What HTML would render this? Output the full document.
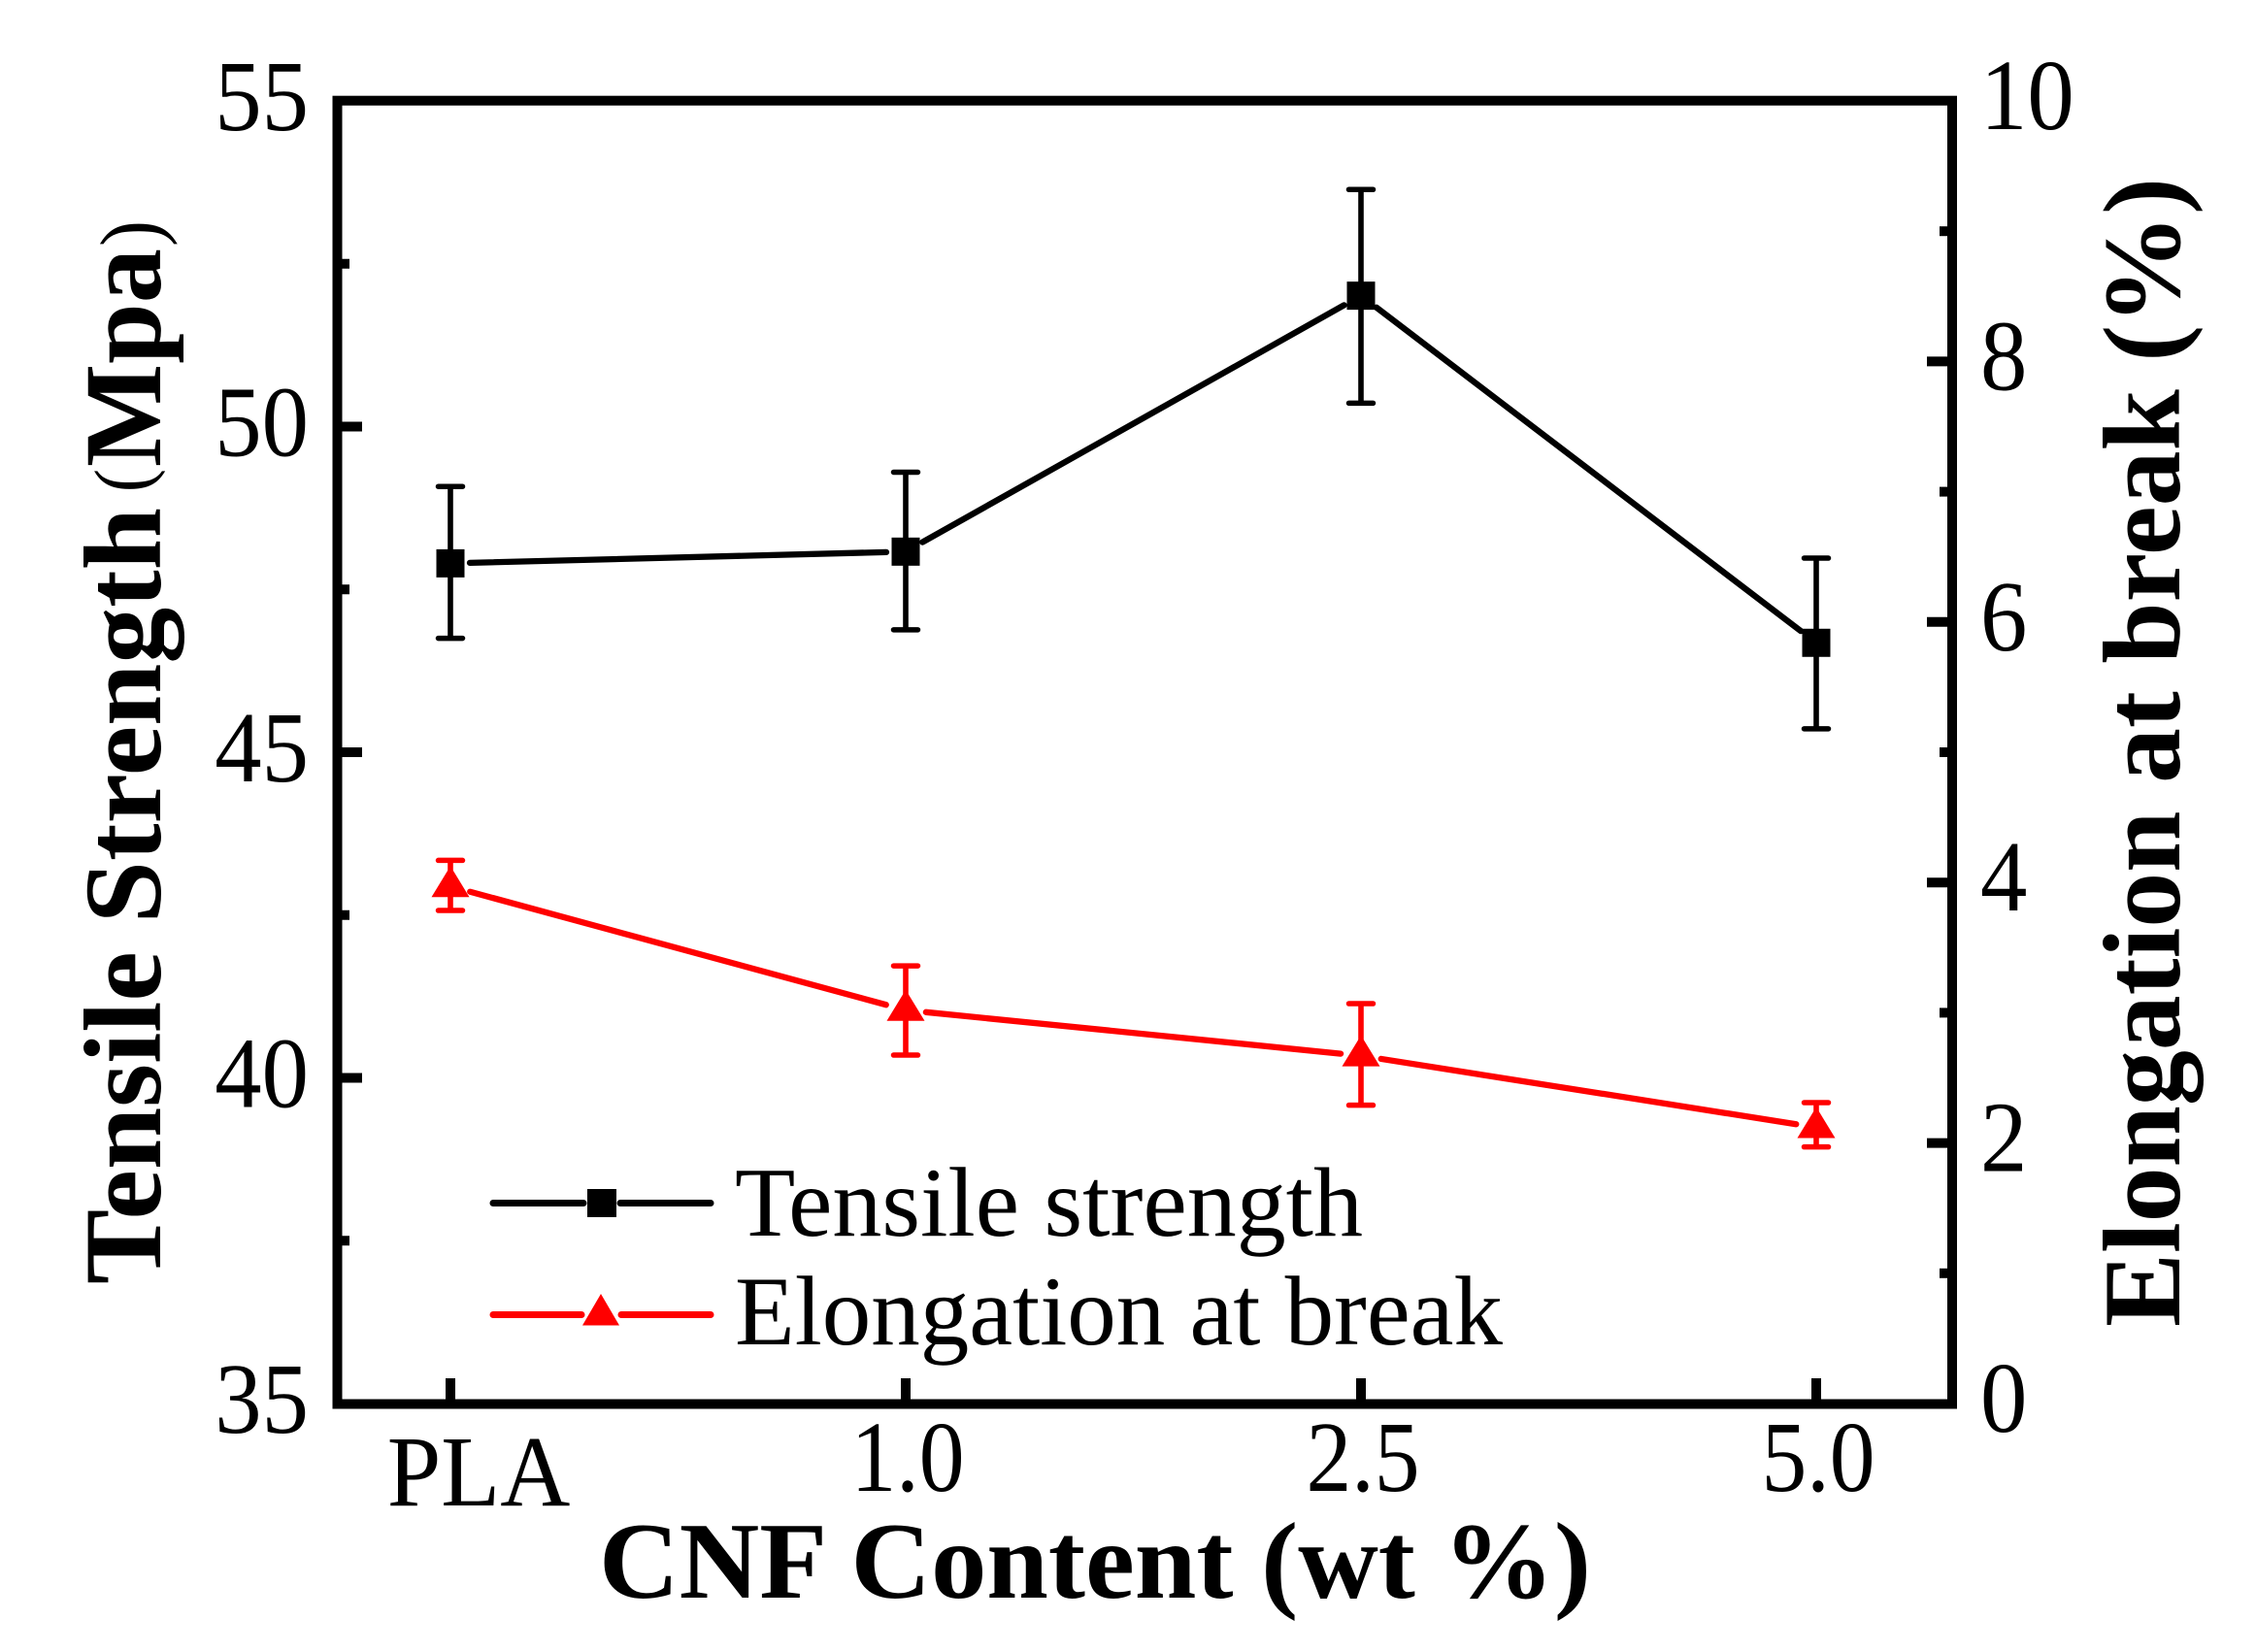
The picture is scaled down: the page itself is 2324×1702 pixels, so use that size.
<!DOCTYPE html>
<html lang="en">
<head>
<meta charset="utf-8">
<title>Tensile strength and elongation at break vs CNF content</title>
<style>
html,body{margin:0;padding:0;background:#fff;}
svg{display:block;font-family:"Liberation Serif","Times New Roman",serif;}
</style>
</head>
<body>
<svg id="chart" xmlns="http://www.w3.org/2000/svg" width="2324" height="1702" viewBox="0 0 2324 1702">
  <rect x="0" y="0" width="2324" height="1702" fill="#fff"/>
  <rect x="347.5" y="103.7" width="1663.5" height="1342.8" fill="none" stroke="#000" stroke-width="10"/>
  <g id="axes"></g>
  <g id="series"></g>

  <text x="617" y="1646" font-size="112" font-weight="700" textLength="1022" lengthAdjust="spacingAndGlyphs">CNF Content (wt %)</text>
  <text transform="translate(165 1323) rotate(-90)" font-size="113" font-weight="700" textLength="800" lengthAdjust="spacingAndGlyphs">Tensile Strength</text>
  <text transform="translate(153 507) rotate(-90)" font-size="80" font-weight="400" textLength="24" lengthAdjust="spacingAndGlyphs">(</text>
  <text transform="translate(165 481) rotate(-90)" font-size="113" font-weight="700" textLength="225" lengthAdjust="spacingAndGlyphs">Mpa</text>
  <text transform="translate(164 254) rotate(-90)" font-size="88" font-weight="400" textLength="27" lengthAdjust="spacingAndGlyphs">)</text>
  <text transform="translate(2245 1367) rotate(-90)" font-size="113" font-weight="700" textLength="1184" lengthAdjust="spacingAndGlyphs">Elongation at break (%)</text>

  <g>
    <g>
      <line x1="508" y1="1239.5" x2="601" y2="1239.5" stroke="#000" stroke-width="7" stroke-linecap="round"/>
      <line x1="639" y1="1239.5" x2="732" y2="1239.5" stroke="#000" stroke-width="7" stroke-linecap="round"/>
      <rect x="605" y="1225" width="30" height="29" fill="#000"/>
      <text x="757" y="1273" font-size="102" textLength="647" lengthAdjust="spacingAndGlyphs">Tensile strength</text>
    </g>
    <g>
      <line x1="508" y1="1354.5" x2="599" y2="1354.5" stroke="#f00" stroke-width="7" stroke-linecap="round"/>
      <line x1="640" y1="1354.5" x2="732" y2="1354.5" stroke="#f00" stroke-width="7" stroke-linecap="round"/>
      <polygon points="619,1333 600,1365.5 638,1365.5" fill="#f00"/>
      <text x="757" y="1385" font-size="102" textLength="791" lengthAdjust="spacingAndGlyphs">Elongation at break</text>
    </g>
  </g>
</svg>

<script>
// ---- chart data ----
const categories = ['PLA', '1.0', '2.5', '5.0'];
const tensile = [47.9, 48.08, 52.01, 46.68];
const tensileUpper = [49.08, 49.3, 53.64, 47.98];
const tensileLower = [46.75, 46.88, 50.36, 45.36];
const elongation = [3.97, 3.02, 2.67, 2.12];
const elongationUpper = [4.17, 3.36, 3.07, 2.31];
const elongationLower = [3.785, 2.675, 2.29, 1.97];
const leftTicks = [35, 40, 45, 50, 55];
const leftMinorTicks = [37.5, 42.5, 47.5, 52.5];
const rightTicks = [0, 2, 4, 6, 8, 10];
const rightMinorTicks = [1, 3, 5, 7, 9];

// ---- axis functions ----
const PLOT_TOP = 104, PLOT_BOTTOM = 1446;
const NS = 'http://www.w3.org/2000/svg';
function xAt(i) { return 464 + i * 469; }
function yLeft(v) { return PLOT_BOTTOM - (v - 35) / 20 * (PLOT_BOTTOM - PLOT_TOP); }
function yRight(v) { return PLOT_BOTTOM - v / 10 * (PLOT_BOTTOM - PLOT_TOP); }

function make(parent, tag, attrs, text) {
  const el = document.createElementNS(NS, tag);
  for (const k in attrs) el.setAttribute(k, attrs[k]);
  if (text !== undefined) el.textContent = text;
  parent.appendChild(el);
  return el;
}
function placed(x, y, sx) { return 'translate(' + x + ' ' + y + ') scale(' + sx + ' 1)'; }

const axes = document.getElementById('axes');
const seriesGroup = document.getElementById('series');
const TICK_W = 10, LABEL_SIZE = 104, LABEL_SX = 0.93;

// left axis
leftTicks.forEach(function (v) {
  const y = yLeft(v);
  if (v !== 35 && v !== 55) {
    const t = make(axes, 'line', {x1: 352, x2: 373, y1: y, y2: y, stroke: '#000', 'stroke-width': TICK_W});
    
    
  }
  const l = make(axes, 'text', {transform: placed(318, y + 30, LABEL_SX), 'text-anchor': 'end', 'font-size': LABEL_SIZE}, String(v));
  
  
});
leftMinorTicks.forEach(function (v) {
  const y = yLeft(v);
  const t = make(axes, 'line', {x1: 352, x2: 360, y1: y, y2: y, stroke: '#000', 'stroke-width': TICK_W});
  
  
});

// right axis
rightTicks.forEach(function (v) {
  const y = yRight(v);
  if (v !== 0 && v !== 10) {
    const t = make(axes, 'line', {x1: 1985, x2: 2006, y1: y, y2: y, stroke: '#000', 'stroke-width': TICK_W});
    
    
  }
  const l = make(axes, 'text', {transform: placed(2040, y + 29, LABEL_SX), 'font-size': LABEL_SIZE}, String(v));
  
  
});
rightMinorTicks.forEach(function (v) {
  const y = yRight(v);
  const t = make(axes, 'line', {x1: 1998, x2: 2006, y1: y, y2: y, stroke: '#000', 'stroke-width': TICK_W});
  
  
});

// x axis
categories.forEach(function (c, i) {
  const x = xAt(i);
  const t = make(axes, 'line', {x1: x, x2: x, y1: 1420, y2: 1442, stroke: '#000', 'stroke-width': TICK_W});
  
  
  const first = i === 0;
  const l = make(axes, 'text', {
    transform: placed(first ? x + 29 : x + 2, first ? 1551 : 1536, first ? 0.96 : 0.9),
    'text-anchor': 'middle', 'font-size': LABEL_SIZE
  }, c);
  
  
});

// series helpers
function drawConnectors(values, yFn, color, gap) {
  for (let i = 0; i < values.length - 1; i++) {
    const x0 = xAt(i), y0 = yFn(values[i]), x1 = xAt(i + 1), y1 = yFn(values[i + 1]);
    const d = Math.hypot(x1 - x0, y1 - y0);
    const ux = (x1 - x0) / d, uy = (y1 - y0) / d;
    const seg = make(seriesGroup, 'line', {
      x1: x0 + ux * gap, y1: y0 + uy * gap, x2: x1 - ux * gap, y2: y1 - uy * gap,
      stroke: color, 'stroke-width': 6.3, 'stroke-linecap': 'round'
    });
    
    
  }
}
function drawErrors(upper, lower, yFn, color) {
  upper.forEach(function (u, i) {
    const x = xAt(i), yU = yFn(u), yL = yFn(lower[i]);
    const stem = make(seriesGroup, 'line', {x1: x, x2: x, y1: yU, y2: yL, stroke: color, 'stroke-width': 5.6});
    
    
    [yU, yL].forEach(function (y) {
      const cap = make(seriesGroup, 'line', {x1: x - 12.5, x2: x + 12.5, y1: y, y2: y, stroke: color, 'stroke-width': 5.5, 'stroke-linecap': 'round'});
      
      
    });
  });
}

// tensile strength (left axis)
drawConnectors(tensile, yLeft, '#000', 20);
drawErrors(tensileUpper, tensileLower, yLeft, '#000');
tensile.forEach(function (v, i) {
  const x = xAt(i), y = yLeft(v);
  const m = make(seriesGroup, 'rect', {x: x - 14.5, y: y - 14.5, width: 29, height: 29, fill: '#000'});
  
  
});

// elongation at break (right axis)
drawConnectors(elongation, yRight, '#f00', 21);
drawErrors(elongationUpper, elongationLower, yRight, '#f00');
elongation.forEach(function (v, i) {
  const x = xAt(i), y = yRight(v);
  const pts = [x, y - 21, x - 19.5, y + 11, x + 19.5, y + 11].join(' ');
  const m = make(seriesGroup, 'polygon', {points: pts, fill: '#f00'});
  
  
});
</script>
</body>
</html>
